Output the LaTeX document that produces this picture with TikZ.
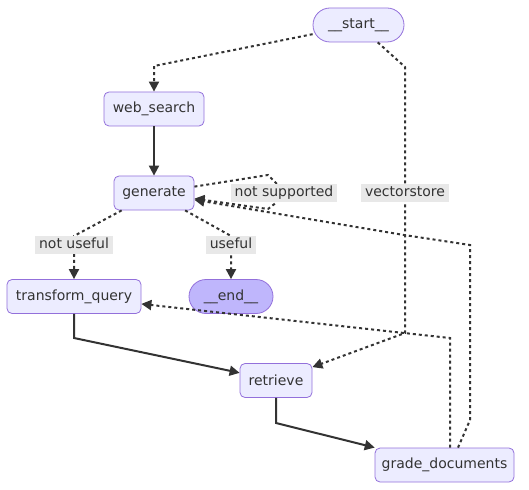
\documentclass[tikz,border=0pt]{standalone}
\usepackage{fontspec}
\setmainfont{DejaVu Sans}
\usetikzlibrary{arrows.meta}
\definecolor{nodefill}{HTML}{ECECFF}
\definecolor{nodeline}{HTML}{9370DB}
\definecolor{endfill}{HTML}{BFB6FC}
\definecolor{labelfill}{HTML}{E8E8E8}
\definecolor{ink}{HTML}{333333}
\begin{document}
\begin{tikzpicture}[x=1bp,y=-1bp,every node/.style={text=ink,font=\fontsize{14bp}{16bp}\selectfont}]
    	\tikzstyle{box}=[draw=nodeline,fill=nodefill,rounded corners=5bp,minimum height=34bp,inner sep=0pt,line width=0.8bp]
    	\tikzstyle{pill}=[box,rounded corners=17bp]
    	\tikzstyle{lbl}=[fill=labelfill,inner xsep=4bp,inner ysep=2.5bp,text height=10bp,text depth=3bp]
    	\tikzstyle{flow}=[draw=ink,line width=2bp,-{Triangle[length=10bp,width=10bp]}]
    	\tikzstyle{cond}=[flow,dash pattern=on 3bp off 3bp]
    	\useasboundingbox (0,0) rectangle (529,490);
    	\node[pill,minimum width=91bp] (start) at (358.5,25) {\_\_start\_\_};
    	\node[box,minimum width=100bp] (search) at (154,109) {web\_search};
    	\node[box,minimum width=80bp] (generate) at (154,193) {generate};
    	\node[box,minimum width=134bp] (transform) at (74,296.5) {transform\_query};
    	\node[pill,fill=endfill,minimum width=84bp] (done) at (231,296.5) {\_\_end\_\_};
    	\node[box,minimum width=72bp] (retrieve) at (276,380.5) {retrieve};
    	\node[box,minimum width=139bp] (grade) at (444.5,465) {grade\_documents};
    	\draw[cond] (start) -- (154,66) -- (search);
    	\draw[cond] (start) -- (405,67) -- (405,333) -- (retrieve);
    	\draw[flow] (search) -- (generate);
    	\draw[cond] (generate) -- (268,175) -- (277,184) -- (277,202) -- (268,209) -- (generate);
    	\draw[cond] (generate) -- (74,236) -- (transform);
    	\draw[cond] (generate) -- (231,236) -- (done);
    	\draw[flow] (transform) -- (74,338) -- (retrieve);
    	\draw[flow] (retrieve) -- (276,423) -- (grade);
    	\draw[cond] ([xshift=5.5bp]grade.north) -- (450,338) -- (404,333) -- (transform);
    	\draw[cond] ([xshift=13.5bp]grade.north) -- (470,420) -- (470,245) -- (404,235) -- (generate);
    	\node[lbl] (notsupported) at (284,193) {not supported};
    	\node[lbl] (vectorstore) at (405,193) {vectorstore};
    	\node[lbl] (notuseful) at (74,245) {not useful};
    	\node[lbl] (useful) at (231,245) {useful};
\end{tikzpicture}
\end{document}
